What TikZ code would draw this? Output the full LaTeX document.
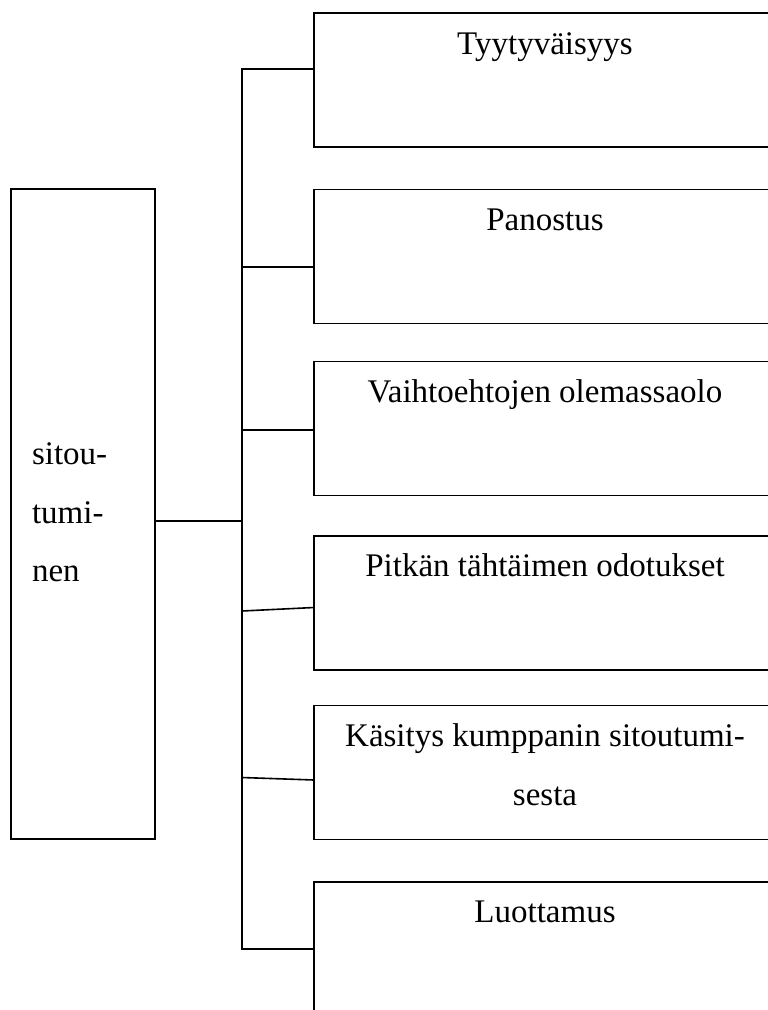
\documentclass[tikz,border=0pt]{standalone}
\usepackage{fontspec}
\setmainfont{Liberation Serif}
\begin{document}
\begin{tikzpicture}[x=1pt,y=-1pt,
  every node/.style={inner sep=0pt, outer sep=0pt},
  frame/.style={draw=black, line width=1.6pt, rectangle},
  itembox/.style={frame, minimum width=462pt, minimum height=134pt},
  label/.style={anchor=base, font=\fontsize{33}{40}\selectfont},
  leftlabel/.style={anchor=base west, font=\fontsize{33}{40}\selectfont},
  link/.style={draw=black, line width=1.6pt}]
  \useasboundingbox (0,0) rectangle (768,1010);
  \clip (0,0) rectangle (768,1010);

  % main concept
  \node[frame, minimum width=144pt, minimum height=650pt] (main) at (83,514) {};
  \node[leftlabel] (m1) at (32,464) {sitou-};
  \node[leftlabel] (m2) at (32,523) {tumi-};
  \node[leftlabel] (m3) at (32,581) {nen};

  % components
  \node[itembox] (b1) at (545,80)    {};
  \node[itembox] (b2) at (545,256.5) {};
  \node[itembox] (b3) at (545,428.5) {};
  \node[itembox] (b4) at (545,603)   {};
  \node[itembox] (b5) at (545,772.5) {};
  \node[itembox] (b6) at (545,949)   {};

  \node[label] (t1) at (545,54)  {Tyytyväisyys};
  \node[label] (t2) at (545,230) {Panostus};
  \node[label] (t3) at (545,402) {Vaihtoehtojen olemassaolo};
  \node[label] (t4) at (545,576) {Pitkän tähtäimen odotukset};
  \node[label] (t5a) at (545,746) {Käsitys kumppanin sitoutumi-};
  \node[label] (t5b) at (545,805) {sesta};
  \node[label] (t6) at (545,922) {Luottamus};

  % trunk junctions
  \coordinate (j1) at (242,69);
  \coordinate (j2) at (242,267);
  \coordinate (j3) at (242,430);
  \coordinate (jm) at (242,521);
  \coordinate (j4) at (242,611);
  \coordinate (j5) at (242,777.5);
  \coordinate (j6) at (242,949);

  % connectors
  \draw[link] ([yshift=11pt]b1.west) -- (j1) -- (j6) -- (b6.west);
  \draw[link] (j2) -- ([yshift=-10.5pt]b2.west);
  \draw[link] (j3) -- ([yshift=-1.5pt]b3.west);
  \draw[link] (j4) -- ([yshift=-4.5pt]b4.west);
  \draw[link] (j5) -- ([yshift=-7.5pt]b5.west);
  \draw[link] ([yshift=-7pt]main.east) -- (jm);
\end{tikzpicture}
\end{document}
